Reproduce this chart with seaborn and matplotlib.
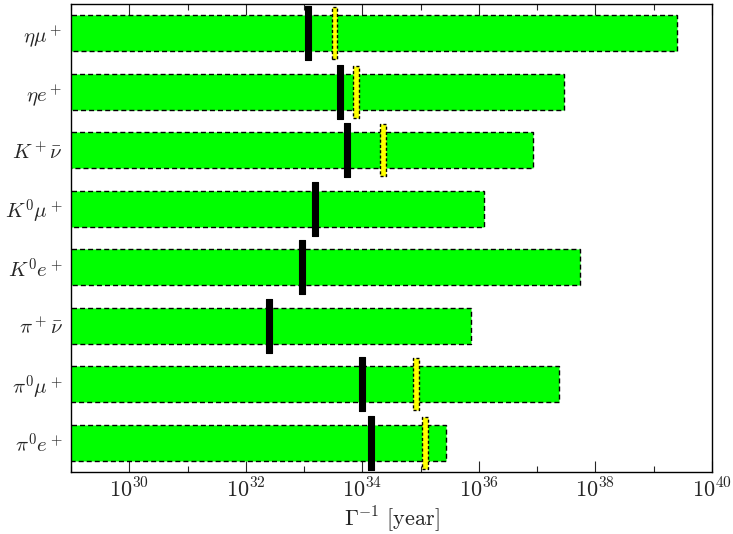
#! /usr/bin/env python3

import numpy as np
import pandas as pd
import matplotlib
matplotlib.use("Agg")
import matplotlib.pyplot as plt
from matplotlib.ticker import FixedLocator, FixedFormatter
import seaborn as sns

sns.set_style("ticks")
plt.rcParams["mathtext.fontset"] = "cm"
plt.rcParams["font.family"] = ["DejaVu Serif"]

# decay channels, top to bottom
channels = [r"$\eta\mu^+$", r"$\eta e^+$", r"$K^+\bar{\nu}$", r"$K^0\mu^+$",
            r"$K^0e^+$", r"$\pi^+\bar{\nu}$", r"$\pi^0\mu^+$", r"$\pi^0e^+$"]
# log10 of lifetimes [year]
bar_end = [39.40, 37.46, 36.92, 36.09, 37.74, 35.86, 37.38, 35.44]
black_lim = [33.07, 33.62, 33.73, 33.19, 32.97, 32.40, 33.99, 34.14]
yellow_lim = [33.52, 33.89, 34.36, np.nan, np.nan, np.nan, 34.92, 35.07]

major_exp = [30, 32, 34, 36, 38, 40]
minor_exp = [29, 31, 33, 35, 37, 39]

df = pd.DataFrame({
    "channel": channels,
    "pos": np.arange(len(channels)),
    "bar": 10.0 ** np.array(bar_end),
    "black": 10.0 ** np.array(black_lim),
    "yellow": 10.0 ** np.array(yellow_lim),
})

fig = plt.figure(figsize=(7.33, 5.34), dpi=100)
ax = fig.add_axes([0.0969, 0.1161, 0.8744, 0.8764])

sns.barplot(data=df, x="bar", y="channel", orient="h", ax=ax,
            color="#00ff00", saturation=1, width=0.62, log_scale=True,
            edgecolor="black", linewidth=1.0, linestyle=(0, (3.6, 2.2)))

black_mark = [(-0.13, -1), (0.13, -1), (0.13, 1), (-0.13, 1), (-0.13, -1)]
yellow_mark = [(-0.11, -1), (0.11, -1), (0.11, 1), (-0.11, 1), (-0.11, -1)]

sns.scatterplot(data=df, x="black", y="pos", ax=ax, marker=black_mark,
                s=1480, color="black", edgecolor="black", linewidth=0.8,
                zorder=5)
sns.scatterplot(data=df.dropna(), x="yellow", y="pos", ax=ax,
                marker=yellow_mark, s=1420, color="#ffff00",
                edgecolor="black", linewidth=1.0, linestyle=(0, (2.2, 1.6)),
                zorder=6)

ax.set_xscale("log")
ax.set_xlim(1e29, 1e40)
ax.set_ylim(7.5, -0.5)
ax.xaxis.set_major_locator(FixedLocator([10.0 ** e for e in major_exp]))
ax.xaxis.set_major_formatter(FixedFormatter([rf"$10^{{{e}}}$" for e in major_exp]))
ax.xaxis.set_minor_locator(FixedLocator([10.0 ** e for e in minor_exp]))
ax.xaxis.set_minor_formatter(FixedFormatter([""] * len(minor_exp)))
ax.set_yticks(np.arange(len(channels)))
ax.set_yticklabels(channels)

ax.tick_params(axis="x", which="major", direction="in", top=True,
               length=8, width=0.8, labelsize=16, pad=5)
ax.tick_params(axis="x", which="minor", direction="in", top=True,
               length=4, width=0.8)
ax.tick_params(axis="y", length=0, labelsize=15, pad=6)
for s in ax.spines.values():
    s.set_visible(True)
    s.set_linewidth(1.0)
    s.set_color("black")

ax.set_xlabel(r"$\Gamma^{-1}\ \mathrm{[year]}$", fontsize=16, labelpad=1)
ax.set_ylabel("")

plt.savefig("out.png", dpi=100)
